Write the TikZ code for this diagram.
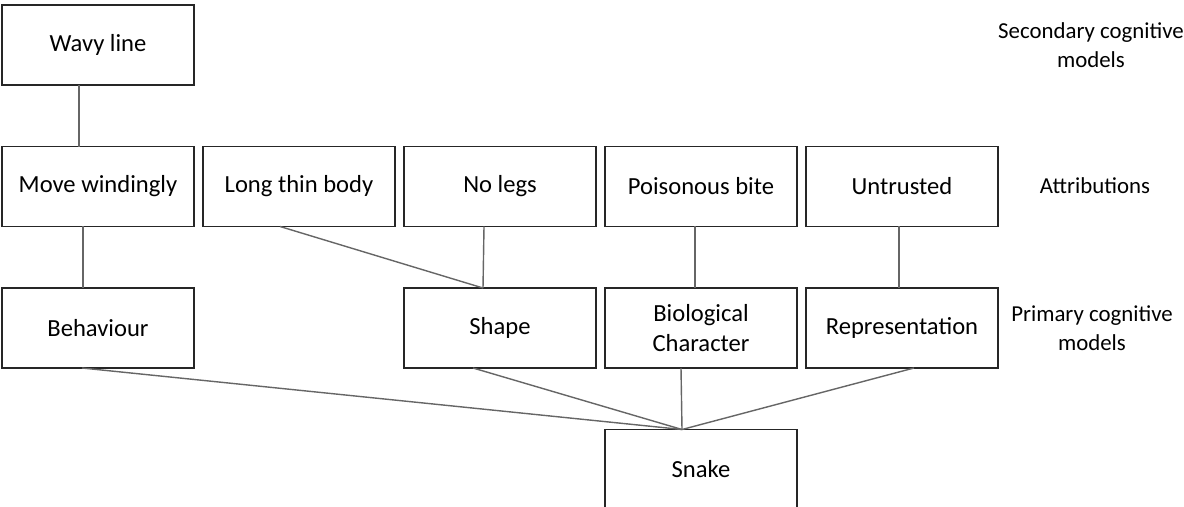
\documentclass[tikz,border=0pt]{standalone}
\usepackage{fontspec}
\setmainfont{Carlito}
\tikzset{
    box/.style={draw=black!85, thick, minimum width=3.84cm, minimum height=1.6cm, inner sep=0pt, outer sep=0pt, align=center, font=\fontsize{14}{17}\selectfont},
    link/.style={black!60, thick},
    levelname/.style={align=center, font=\fontsize{13}{16.5}\selectfont}
}
\begin{document}
\begin{tikzpicture}[x=0.02cm, y=-0.02cm]
    \useasboundingbox (0,0) rectangle (1184,507);
    % Boxes
    \node[box] (wavy) at (98,45) {Wavy line};
    \node[box] (windingly) at (98,186.5) {Move windingly};
    \node[box] (body) at (299,186.5) {Long thin body};
    \node[box] (legs) at (500,186.5) {No legs};
    \node[box] (bite) at (701,186.5) {Poisonous bite};
    \node[box] (untrusted) at (902,186.5) {Untrusted};
    \node[box] (behaviour) at (98,328) {Behaviour};
    \node[box] (shape) at (500,328) {Shape};
    \node[box] (biological) at (701,328) {Biological\\Character};
    \node[box] (representation) at (902,328) {Representation};
    \node[box] (snake) at (701,469.5) {Snake};
    % Level names
    \node[levelname] (secondary) at (1091,45) {Secondary cognitive\\models};
    \node[levelname] (attributions) at (1095,186) {Attributions};
    \node[levelname] (primary) at (1092,328) {Primary cognitive\\models};
    % Coordinate
    \coordinate (join) at ([xshift=-0.38cm]snake.north);
    % Linee
    \draw[link] ([xshift=-0.38cm]wavy.south) -- ([xshift=-0.38cm]windingly.north);
    \draw[link] ([xshift=-0.3cm]windingly.south) -- ([xshift=-0.3cm]behaviour.north);
    \draw[link] ([xshift=-0.38cm]body.south) -- ([xshift=-0.34cm]shape.north);
    \draw[link] ([xshift=-0.32cm]legs.south) -- ([xshift=-0.34cm]shape.north);
    \draw[link] ([xshift=-0.12cm]bite.south) -- ([xshift=-0.12cm]biological.north);
    \draw[link] ([xshift=-0.06cm]untrusted.south) -- ([xshift=-0.06cm]representation.north);
    \draw[link] ([xshift=-0.32cm]behaviour.south) -- (join);
    \draw[link] ([xshift=-0.54cm]shape.south) -- (join);
    \draw[link] ([xshift=-0.4cm]biological.south) -- (join);
    \draw[link] ([xshift=0.24cm]representation.south) -- (join);
\end{tikzpicture}
\end{document}
